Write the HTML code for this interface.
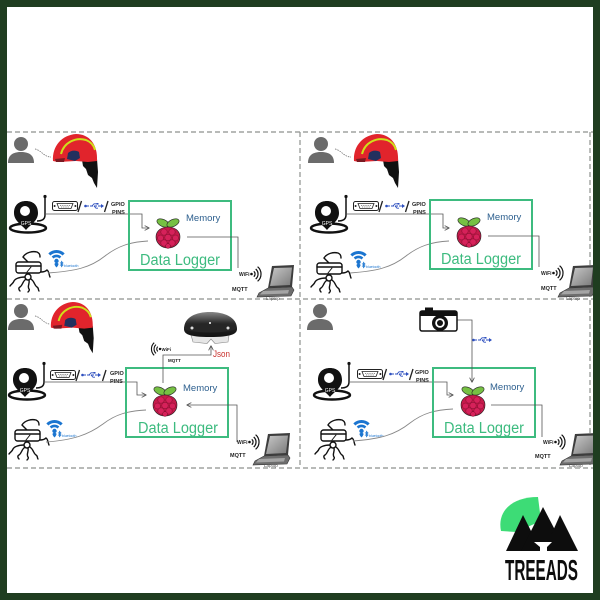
<!DOCTYPE html>
<html><head><meta charset="utf-8">
<style>
html,body{margin:0;padding:0;width:600px;height:600px;overflow:hidden;background:#1f3d20}
svg{display:block}
text{font-family:"Liberation Sans",Arial,sans-serif}
</style></head><body>
<svg width="600" height="600" viewBox="0 0 600 600" xmlns="http://www.w3.org/2000/svg">
<defs>
 <marker id="ar" viewBox="0 0 6 6" refX="5.5" refY="3" markerWidth="5" markerHeight="5" orient="auto" markerUnits="userSpaceOnUse">
  <path d="M0,0 L6,3 L0,6" fill="none" stroke="#555" stroke-width="1"/>
 </marker>
 <linearGradient id="hl" x1="0" y1="0" x2="0" y2="1"><stop offset="0" stop-color="#888"/><stop offset="0.45" stop-color="#2a2a2a"/><stop offset="1" stop-color="#111"/></linearGradient>
 <linearGradient id="scr" x1="0" y1="0" x2="1" y2="1"><stop offset="0" stop-color="#c8c8c8"/><stop offset="1" stop-color="#7a7a7a"/></linearGradient>
</defs>
<rect x="0" y="0" width="600" height="600" fill="#fff"/>

<!-- dashed grid -->
<g stroke="#8e918e" stroke-width="1.2" stroke-dasharray="5 3" fill="none">
 <line x1="7" y1="132" x2="593" y2="132"/>
 <line x1="7" y1="299" x2="593" y2="299"/>
 <line x1="7" y1="468" x2="593" y2="468"/>
 <line x1="300" y1="132" x2="300" y2="468"/>
 <line x1="590" y1="132" x2="590" y2="468"/>
</g>

<!-- ========== PANEL 1 ========== -->
<g id="p1">
 <g transform="translate(8,136)" fill="#6b6b6b"><circle cx="13" cy="8" r="7"/><path d="M0,27 C0,19 5,16 13,16 C21,16 26,19 26,27 Z"/></g>
 <path d="M35,149 C41,150 44,157 51,157" fill="none" stroke="#666" stroke-width="0.7" stroke-dasharray="1.5 1"/>
 <g transform="translate(52,134)">
  <path d="M30,26 L45,25 L46,38 L45,54 L42,49 L40,44 L36,41 L34,35 L31,32 Z" fill="#111"/>
  <path d="M1,27 C0,12 10,1 24,0 C37,0 46,10 45,27 L36,28 L24,27 L6,28 Z" fill="#e1242c"/>
  <path d="M9,20 C12,8 24,3 34,6 C39,8 42,12 43,16" fill="none" stroke="#cfe01a" stroke-width="2"/>
  <path d="M15,25 L16,19 C19,16 24,16 27,18 L28,24 L23,27 Z" fill="#23305e"/>
  <path d="M3,25 L13,24 L12,28 L4,28 Z" fill="#7a1a22"/>
 </g>
 <g transform="translate(10,195)">
  <ellipse cx="18" cy="33" rx="18" ry="4.5" fill="none" stroke="#111" stroke-width="2.5"/>
  <path d="M16,35 C12,30 4,26 4,18 C4,10 9,6 16,6 C23,6 28,10 28,18 C28,26 20,30 16,35 Z" fill="#111"/>
  <circle cx="15" cy="16" r="5" fill="#fff"/>
  <path d="M35,1 L35,20 C35,24 32,26 27,26" fill="none" stroke="#111" stroke-width="1.5"/>
  <circle cx="35" cy="1.5" r="1.6" fill="#111"/>
  <text x="16" y="30" font-size="5" fill="#fff" text-anchor="middle">GPS</text>
 </g>
 <g transform="translate(52,201)">
  <rect x="0.5" y="0.5" width="25" height="9" rx="2" fill="#fff" stroke="#222" stroke-width="1"/>
  <path d="M5,2.5 L21,2.5 L19,7.5 L7,7.5 Z" fill="none" stroke="#222" stroke-width="0.8"/>
  <circle cx="2.6" cy="5" r="1" fill="#222"/><circle cx="23.4" cy="5" r="1" fill="#222"/>
  <path d="M8,4.5 L18,4.5 M9,6 L17,6" stroke="#222" stroke-width="0.6" stroke-dasharray="1 0.8"/>
 </g>
 <line x1="78" y1="212" x2="81.5" y2="201" stroke="#222" stroke-width="1.3"/>
 <g transform="translate(84,203)" stroke="#2d4fbf" fill="#2d4fbf">
  <line x1="2" y1="3" x2="18" y2="3" stroke-width="1" stroke-dasharray="3 1"/>
  <circle cx="1.5" cy="3" r="1.3" stroke="none"/>
  <path d="M17,1 L20,3 L17,5 Z" stroke="none"/>
  <path d="M8,3 L10,0.8 L13,0.8 M10,3 L12,5.2 L14,5.2" fill="none" stroke-width="0.9"/>
  <rect x="12.5" y="0" width="2" height="1.6" stroke="none"/>
 </g>
 <line x1="104.5" y1="212" x2="108" y2="201" stroke="#222" stroke-width="1.3"/>
 <text x="111" y="206" font-size="5.5" font-weight="bold" fill="#222">GPIO</text>
 <text x="112" y="214" font-size="5.5" font-weight="bold" fill="#222">PINS</text>
 <polyline points="45,214 142,214 142,228 149,228" fill="none" stroke="#555" stroke-width="0.8" marker-end="url(#ar)"/>
 <g transform="translate(8,250)" fill="none" stroke="#111" stroke-width="1.4" stroke-linecap="round">
  <path d="M20,12 L15,7 C18,2 25,1 29,2 C31,3 32,4 32,7"/>
  <rect x="8" y="12" width="25" height="11" rx="2.5" fill="#fff"/>
  <path d="M8,16 L33,16"/>
  <path d="M19,22 L23,17" stroke-width="1"/>
  <circle cx="20" cy="27" r="3"/>
  <path d="M17,27 C11,27 7,29 6,31 C5,34 3,34 2,36"/>
  <path d="M18,29 C14,32 15,35 12,37 C10,38 11,40 12,41"/>
  <path d="M21,30 C22,34 19,36 21,39 C22,40 21,41 20,42"/>
  <path d="M23,29 C27,32 26,35 29,37 C31,38 30,40 31,41"/>
  <path d="M33,22 C36,22 38,21 39,20 C41,21 41,25 42,27"/>
 </g>
 <g transform="translate(48,248)">
  <path d="M1.4,6.5 A10,10 0 0 1 15.6,6.5" fill="none" stroke="#1b75d0" stroke-width="3"/>
  <path d="M4.6,9.6 A5.5,5.5 0 0 1 12.4,9.6" fill="none" stroke="#1b75d0" stroke-width="2.6"/>
  <circle cx="8.5" cy="13" r="2.2" fill="#1b75d0"/>
  <path d="M6.5,16 C6.5,14.5 10.5,14.5 10.5,16 C10.5,17.5 8.5,19.5 8.5,19.5 C8.5,19.5 6.5,17.5 6.5,16 Z" fill="#1b75d0"/>
  <path d="M12,14.5 L15,17 L13.5,18.5 L13.5,13.5 L15,15 L12,17.5" fill="none" stroke="#1b75d0" stroke-width="0.8"/>
  <text x="16" y="19" font-size="3.5" fill="#1b75d0">bluetooth</text>
 </g>
 <path d="M48,273 C75,271 90,268 105,256 C118,246 130,242 148,241" fill="none" stroke="#888" stroke-width="0.9"/>
</g>

<g id="p1core">
 <rect x="129" y="201" width="102" height="69" fill="none" stroke="#3dbb7f" stroke-width="2"/>
 <g transform="translate(155,218)">
  <ellipse cx="8" cy="5" rx="6.5" ry="3.5" transform="rotate(25 8 5)" fill="#76c043" stroke="#222" stroke-width="0.6"/>
  <ellipse cx="18" cy="5" rx="6.5" ry="3.5" transform="rotate(-25 18 5)" fill="#76c043" stroke="#222" stroke-width="0.6"/>
  <path d="M13,9 C20,9 25,13 25,19 C25,25 20,30 13,30 C6,30 1,25 1,19 C1,13 6,9 13,9 Z" fill="#c51a4a" stroke="#222" stroke-width="0.6"/>
  <g fill="#d6215a" stroke="#7d0c2c" stroke-width="0.5">
   <circle cx="9" cy="14" r="3.2"/><circle cx="17" cy="14" r="3.2"/><circle cx="13" cy="19.5" r="3.2"/>
   <circle cx="5.5" cy="20" r="3"/><circle cx="20.5" cy="20" r="3"/><circle cx="9" cy="25" r="3.2"/>
   <circle cx="17" cy="25" r="3.2"/><circle cx="13" cy="28" r="2.4"/>
  </g>
 </g>
 <text x="186" y="221" font-size="9.5" fill="#2d5f8e">Memory</text>
 <text x="140" y="265" font-size="15.5" fill="#3dbb7f" textLength="80" lengthAdjust="spacingAndGlyphs">Data Logger</text>
</g>

<g id="p1out">
 <polyline points="187,237 238,237 238,268" fill="none" stroke="#555" stroke-width="0.8"/>
 <text x="239" y="276" font-size="5" font-weight="bold" fill="#222">WiFi</text>
 <circle cx="251.5" cy="274" r="1.3" fill="#111"/>
 <g fill="none" stroke="#111" stroke-width="1.2">
  <path d="M253.8,271.3 A3.5,3.5 0 0 1 253.8,276.7"/>
  <path d="M255.7,269 A6.5,6.5 0 0 1 255.7,279"/>
  <path d="M257.6,266.7 A9.5,9.5 0 0 1 257.6,281.3"/>
 </g>
 <text x="232" y="291" font-size="5.5" font-weight="bold" fill="#222">MQTT</text>
 <g transform="translate(257,265)">
  <polygon points="15,1 37,0 35,22 11,23" fill="#3d3d3d"/>
  <polygon points="17,3 35,2.5 33,20 13,21" fill="url(#scr)"/>
  <polygon points="11,23 35,22 37,25 34,31 0,32 2,28" fill="#6d6d6d" stroke="#333" stroke-width="0.6"/>
  <polygon points="6,26 32,25 31,28.5 3,29.5" fill="#a5a5a5"/>
 </g>
 <text x="266" y="300" font-size="4.5" fill="#555">Laptop</text>
</g>

<!-- ========== PANEL 2 ========== -->
<g transform="translate(300,0)">
 <g transform="translate(8,136)" fill="#6b6b6b"><circle cx="13" cy="8" r="7"/><path d="M0,27 C0,19 5,16 13,16 C21,16 26,19 26,27 Z"/></g>
 <path d="M35,149 C41,150 44,157 51,157" fill="none" stroke="#666" stroke-width="0.7" stroke-dasharray="1.5 1"/>
 <g transform="translate(53,134)">
  <path d="M30,26 L45,25 L46,38 L45,54 L42,49 L40,44 L36,41 L34,35 L31,32 Z" fill="#111"/>
  <path d="M1,27 C0,12 10,1 24,0 C37,0 46,10 45,27 L36,28 L24,27 L6,28 Z" fill="#e1242c"/>
  <path d="M9,20 C12,8 24,3 34,6 C39,8 42,12 43,16" fill="none" stroke="#cfe01a" stroke-width="2"/>
  <path d="M15,25 L16,19 C19,16 24,16 27,18 L28,24 L23,27 Z" fill="#23305e"/>
  <path d="M3,25 L13,24 L12,28 L4,28 Z" fill="#7a1a22"/>
 </g>
 <g transform="translate(11,195)">
  <ellipse cx="18" cy="33" rx="18" ry="4.5" fill="none" stroke="#111" stroke-width="2.5"/>
  <path d="M16,35 C12,30 4,26 4,18 C4,10 9,6 16,6 C23,6 28,10 28,18 C28,26 20,30 16,35 Z" fill="#111"/>
  <circle cx="15" cy="16" r="5" fill="#fff"/>
  <path d="M35,1 L35,20 C35,24 32,26 27,26" fill="none" stroke="#111" stroke-width="1.5"/>
  <circle cx="35" cy="1.5" r="1.6" fill="#111"/>
  <text x="16" y="30" font-size="5" fill="#fff" text-anchor="middle">GPS</text>
 </g>
 <g transform="translate(53,201)">
  <rect x="0.5" y="0.5" width="25" height="9" rx="2" fill="#fff" stroke="#222" stroke-width="1"/>
  <path d="M5,2.5 L21,2.5 L19,7.5 L7,7.5 Z" fill="none" stroke="#222" stroke-width="0.8"/>
  <circle cx="2.6" cy="5" r="1" fill="#222"/><circle cx="23.4" cy="5" r="1" fill="#222"/>
  <path d="M8,4.5 L18,4.5 M9,6 L17,6" stroke="#222" stroke-width="0.6" stroke-dasharray="1 0.8"/>
 </g>
 <line x1="79" y1="212" x2="82.5" y2="201" stroke="#222" stroke-width="1.3"/>
 <g transform="translate(85,203)" stroke="#2d4fbf" fill="#2d4fbf">
  <line x1="2" y1="3" x2="18" y2="3" stroke-width="1" stroke-dasharray="3 1"/>
  <circle cx="1.5" cy="3" r="1.3" stroke="none"/>
  <path d="M17,1 L20,3 L17,5 Z" stroke="none"/>
  <path d="M8,3 L10,0.8 L13,0.8 M10,3 L12,5.2 L14,5.2" fill="none" stroke-width="0.9"/>
  <rect x="12.5" y="0" width="2" height="1.6" stroke="none"/>
 </g>
 <line x1="105.5" y1="212" x2="109" y2="201" stroke="#222" stroke-width="1.3"/>
 <text x="112" y="206" font-size="5.5" font-weight="bold" fill="#222">GPIO</text>
 <text x="113" y="214" font-size="5.5" font-weight="bold" fill="#222">PINS</text>
 <polyline points="47,214 143,214 143,228 149,228" fill="none" stroke="#555" stroke-width="0.8" marker-end="url(#ar)"/>
 <g transform="translate(9,251)" fill="none" stroke="#111" stroke-width="1.4" stroke-linecap="round">
  <path d="M20,12 L15,7 C18,2 25,1 29,2 C31,3 32,4 32,7"/>
  <rect x="8" y="12" width="25" height="11" rx="2.5" fill="#fff"/>
  <path d="M8,16 L33,16"/>
  <path d="M19,22 L23,17" stroke-width="1"/>
  <circle cx="20" cy="27" r="3"/>
  <path d="M17,27 C11,27 7,29 6,31 C5,34 3,34 2,36"/>
  <path d="M18,29 C14,32 15,35 12,37 C10,38 11,40 12,41"/>
  <path d="M21,30 C22,34 19,36 21,39 C22,40 21,41 20,42"/>
  <path d="M23,29 C27,32 26,35 29,37 C31,38 30,40 31,41"/>
  <path d="M33,22 C36,22 38,21 39,20 C41,21 41,25 42,27"/>
 </g>
 <g transform="translate(50,249)">
  <path d="M1.4,6.5 A10,10 0 0 1 15.6,6.5" fill="none" stroke="#1b75d0" stroke-width="3"/>
  <path d="M4.6,9.6 A5.5,5.5 0 0 1 12.4,9.6" fill="none" stroke="#1b75d0" stroke-width="2.6"/>
  <circle cx="8.5" cy="13" r="2.2" fill="#1b75d0"/>
  <path d="M6.5,16 C6.5,14.5 10.5,14.5 10.5,16 C10.5,17.5 8.5,19.5 8.5,19.5 C8.5,19.5 6.5,17.5 6.5,16 Z" fill="#1b75d0"/>
  <path d="M12,14.5 L15,17 L13.5,18.5 L13.5,13.5 L15,15 L12,17.5" fill="none" stroke="#1b75d0" stroke-width="0.8"/>
  <text x="16" y="19" font-size="3.5" fill="#1b75d0">bluetooth</text>
 </g>
 <path d="M50,273 C76,271 91,268 106,256 C119,246 131,242 149,241" fill="none" stroke="#888" stroke-width="0.9"/>
</g>
<g transform="translate(301,-1)">
 <rect x="129" y="201" width="102" height="69" fill="none" stroke="#3dbb7f" stroke-width="2"/>
 <g transform="translate(155,218)">
  <ellipse cx="8" cy="5" rx="6.5" ry="3.5" transform="rotate(25 8 5)" fill="#76c043" stroke="#222" stroke-width="0.6"/>
  <ellipse cx="18" cy="5" rx="6.5" ry="3.5" transform="rotate(-25 18 5)" fill="#76c043" stroke="#222" stroke-width="0.6"/>
  <path d="M13,9 C20,9 25,13 25,19 C25,25 20,30 13,30 C6,30 1,25 1,19 C1,13 6,9 13,9 Z" fill="#c51a4a" stroke="#222" stroke-width="0.6"/>
  <g fill="#d6215a" stroke="#7d0c2c" stroke-width="0.5">
   <circle cx="9" cy="14" r="3.2"/><circle cx="17" cy="14" r="3.2"/><circle cx="13" cy="19.5" r="3.2"/>
   <circle cx="5.5" cy="20" r="3"/><circle cx="20.5" cy="20" r="3"/><circle cx="9" cy="25" r="3.2"/>
   <circle cx="17" cy="25" r="3.2"/><circle cx="13" cy="28" r="2.4"/>
  </g>
 </g>
 <text x="186" y="221" font-size="9.5" fill="#2d5f8e">Memory</text>
 <text x="140" y="265" font-size="15.5" fill="#3dbb7f" textLength="80" lengthAdjust="spacingAndGlyphs">Data Logger</text>
 <polyline points="187,237 238,237 238,268" fill="none" stroke="#555" stroke-width="0.8"/>
 <text x="240" y="276" font-size="5" font-weight="bold" fill="#222">WiFi</text>
 <circle cx="252.5" cy="274" r="1.3" fill="#111"/>
 <g fill="none" stroke="#111" stroke-width="1.2">
  <path d="M254.8,271.3 A3.5,3.5 0 0 1 254.8,276.7"/>
  <path d="M256.7,269 A6.5,6.5 0 0 1 256.7,279"/>
  <path d="M258.6,266.7 A9.5,9.5 0 0 1 258.6,281.3"/>
 </g>
 <text x="240" y="291" font-size="5.5" font-weight="bold" fill="#222">MQTT</text>
 <g transform="translate(257,266)">
  <polygon points="15,1 37,0 35,22 11,23" fill="#3d3d3d"/>
  <polygon points="17,3 35,2.5 33,20 13,21" fill="url(#scr)"/>
  <polygon points="11,23 35,22 37,25 34,31 0,32 2,28" fill="#6d6d6d" stroke="#333" stroke-width="0.6"/>
  <polygon points="6,26 32,25 31,28.5 3,29.5" fill="#a5a5a5"/>
 </g>
 <text x="265" y="301" font-size="4.5" fill="#555">Laptop</text>
</g>

<!-- ========== PANEL 3 ========== -->
<g transform="translate(0,167)">
 <g transform="translate(8,136)" fill="#6b6b6b"><circle cx="13" cy="8" r="7"/><path d="M0,27 C0,19 5,16 13,16 C21,16 26,19 26,27 Z"/></g>
 <path d="M35,149 C41,150 44,157 50,157" fill="none" stroke="#666" stroke-width="0.7" stroke-dasharray="1.5 1"/>
 <g transform="translate(50,135) scale(0.95)">
  <path d="M30,26 L45,25 L46,38 L45,54 L42,49 L40,44 L36,41 L34,35 L31,32 Z" fill="#111"/>
  <path d="M1,27 C0,12 10,1 24,0 C37,0 46,10 45,27 L36,28 L24,27 L6,28 Z" fill="#e1242c"/>
  <path d="M9,20 C12,8 24,3 34,6 C39,8 42,12 43,16" fill="none" stroke="#cfe01a" stroke-width="2"/>
  <path d="M15,25 L16,19 C19,16 24,16 27,18 L28,24 L23,27 Z" fill="#23305e"/>
  <path d="M3,25 L13,24 L12,28 L4,28 Z" fill="#7a1a22"/>
 </g>
 <g transform="translate(9,195)">
  <ellipse cx="18" cy="33" rx="18" ry="4.5" fill="none" stroke="#111" stroke-width="2.5"/>
  <path d="M16,35 C12,30 4,26 4,18 C4,10 9,6 16,6 C23,6 28,10 28,18 C28,26 20,30 16,35 Z" fill="#111"/>
  <circle cx="15" cy="16" r="5" fill="#fff"/>
  <path d="M35,1 L35,20 C35,24 32,26 27,26" fill="none" stroke="#111" stroke-width="1.5"/>
  <circle cx="35" cy="1.5" r="1.6" fill="#111"/>
  <text x="16" y="30" font-size="5" fill="#fff" text-anchor="middle">GPS</text>
 </g>
 <g transform="translate(50,203)">
  <rect x="0.5" y="0.5" width="25" height="9" rx="2" fill="#fff" stroke="#222" stroke-width="1"/>
  <path d="M5,2.5 L21,2.5 L19,7.5 L7,7.5 Z" fill="none" stroke="#222" stroke-width="0.8"/>
  <circle cx="2.6" cy="5" r="1" fill="#222"/><circle cx="23.4" cy="5" r="1" fill="#222"/>
  <path d="M8,4.5 L18,4.5 M9,6 L17,6" stroke="#222" stroke-width="0.6" stroke-dasharray="1 0.8"/>
 </g>
 <line x1="76" y1="214" x2="79.5" y2="203" stroke="#222" stroke-width="1.3"/>
 <g transform="translate(81,205)" stroke="#2d4fbf" fill="#2d4fbf">
  <line x1="2" y1="3" x2="18" y2="3" stroke-width="1" stroke-dasharray="3 1"/>
  <circle cx="1.5" cy="3" r="1.3" stroke="none"/>
  <path d="M17,1 L20,3 L17,5 Z" stroke="none"/>
  <path d="M8,3 L10,0.8 L13,0.8 M10,3 L12,5.2 L14,5.2" fill="none" stroke-width="0.9"/>
  <rect x="12.5" y="0" width="2" height="1.6" stroke="none"/>
 </g>
 <line x1="102.5" y1="214" x2="106" y2="203" stroke="#222" stroke-width="1.3"/>
 <text x="110" y="208" font-size="5.5" font-weight="bold" fill="#222">GPIO</text>
 <text x="110" y="216" font-size="5.5" font-weight="bold" fill="#222">PINS</text>
 <polyline points="45,215 137,215 137,228 146,228" fill="none" stroke="#555" stroke-width="0.8" marker-end="url(#ar)"/>
 <g transform="translate(7,251)" fill="none" stroke="#111" stroke-width="1.4" stroke-linecap="round">
  <path d="M20,12 L15,7 C18,2 25,1 29,2 C31,3 32,4 32,7"/>
  <rect x="8" y="12" width="25" height="11" rx="2.5" fill="#fff"/>
  <path d="M8,16 L33,16"/>
  <path d="M19,22 L23,17" stroke-width="1"/>
  <circle cx="20" cy="27" r="3"/>
  <path d="M17,27 C11,27 7,29 6,31 C5,34 3,34 2,36"/>
  <path d="M18,29 C14,32 15,35 12,37 C10,38 11,40 12,41"/>
  <path d="M21,30 C22,34 19,36 21,39 C22,40 21,41 20,42"/>
  <path d="M23,29 C27,32 26,35 29,37 C31,38 30,40 31,41"/>
  <path d="M33,22 C36,22 38,21 39,20 C41,21 41,25 42,27"/>
 </g>
 <g transform="translate(46,251)">
  <path d="M1.4,6.5 A10,10 0 0 1 15.6,6.5" fill="none" stroke="#1b75d0" stroke-width="3"/>
  <path d="M4.6,9.6 A5.5,5.5 0 0 1 12.4,9.6" fill="none" stroke="#1b75d0" stroke-width="2.6"/>
  <circle cx="8.5" cy="13" r="2.2" fill="#1b75d0"/>
  <path d="M6.5,16 C6.5,14.5 10.5,14.5 10.5,16 C10.5,17.5 8.5,19.5 8.5,19.5 C8.5,19.5 6.5,17.5 6.5,16 Z" fill="#1b75d0"/>
  <path d="M12,14.5 L15,17 L13.5,18.5 L13.5,13.5 L15,15 L12,17.5" fill="none" stroke="#1b75d0" stroke-width="0.8"/>
  <text x="16" y="19" font-size="3.5" fill="#1b75d0">bluetooth</text>
 </g>
 <path d="M46,275 C73,273 88,268 103,257 C116,247 128,244 146,243" fill="none" stroke="#888" stroke-width="0.9"/>
</g>
<g transform="translate(-3,167)">
 <rect x="129" y="201" width="102" height="69" fill="none" stroke="#3dbb7f" stroke-width="2"/>
 <g transform="translate(155,219)">
  <ellipse cx="8" cy="5" rx="6.5" ry="3.5" transform="rotate(25 8 5)" fill="#76c043" stroke="#222" stroke-width="0.6"/>
  <ellipse cx="18" cy="5" rx="6.5" ry="3.5" transform="rotate(-25 18 5)" fill="#76c043" stroke="#222" stroke-width="0.6"/>
  <path d="M13,9 C20,9 25,13 25,19 C25,25 20,30 13,30 C6,30 1,25 1,19 C1,13 6,9 13,9 Z" fill="#c51a4a" stroke="#222" stroke-width="0.6"/>
  <g fill="#d6215a" stroke="#7d0c2c" stroke-width="0.5">
   <circle cx="9" cy="14" r="3.2"/><circle cx="17" cy="14" r="3.2"/><circle cx="13" cy="19.5" r="3.2"/>
   <circle cx="5.5" cy="20" r="3"/><circle cx="20.5" cy="20" r="3"/><circle cx="9" cy="25" r="3.2"/>
   <circle cx="17" cy="25" r="3.2"/><circle cx="13" cy="28" r="2.4"/>
  </g>
 </g>
 <text x="186" y="224" font-size="9.5" fill="#2d5f8e">Memory</text>
 <text x="141" y="266" font-size="15.5" fill="#3dbb7f" textLength="80" lengthAdjust="spacingAndGlyphs">Data Logger</text>
</g>
<polyline points="237,442 237,405 187,405" fill="none" stroke="#555" stroke-width="0.8" marker-end="url(#ar)"/>
<text x="237" y="444" font-size="5" font-weight="bold" fill="#222">WiFi</text>
<circle cx="249.5" cy="442" r="1.3" fill="#111"/>
<g fill="none" stroke="#111" stroke-width="1.2">
 <path d="M251.8,439.3 A3.5,3.5 0 0 1 251.8,444.7"/>
 <path d="M253.7,437 A6.5,6.5 0 0 1 253.7,447"/>
 <path d="M255.6,434.7 A9.5,9.5 0 0 1 255.6,449.3"/>
</g>
<text x="230" y="457" font-size="5.5" font-weight="bold" fill="#222">MQTT</text>
<g transform="translate(253,433)">
 <polygon points="15,1 37,0 35,22 11,23" fill="#3d3d3d"/>
 <polygon points="17,3 35,2.5 33,20 13,21" fill="url(#scr)"/>
 <polygon points="11,23 35,22 37,25 34,31 0,32 2,28" fill="#6d6d6d" stroke="#333" stroke-width="0.6"/>
 <polygon points="6,26 32,25 31,28.5 3,29.5" fill="#a5a5a5"/>
</g>
<text x="264" y="467" font-size="4.5" fill="#555">Laptop</text>
<polyline points="163,383 163,355 211,355 211,346" fill="none" stroke="#555" stroke-width="0.8" marker-end="url(#ar)"/>
<text x="213" y="357" font-size="9" fill="#c8302c" textLength="17" lengthAdjust="spacingAndGlyphs">Json</text>
<circle cx="160" cy="349" r="1.2" fill="#111"/>
<g fill="none" stroke="#111" stroke-width="1.1">
 <path d="M157.8,346.6 A3.2,3.2 0 0 0 157.8,351.4"/>
 <path d="M156,344.6 A6,6 0 0 0 156,353.4"/>
 <path d="M154.2,342.7 A8.6,8.6 0 0 0 154.2,355.3"/>
</g>
<text x="161.5" y="351" font-size="4.5" font-weight="bold" fill="#222">WiFi</text>
<text x="168" y="362" font-size="4.5" font-weight="bold" fill="#222">MQTT</text>
<path d="M191,335 L229,335 L228,342 L215,343.5 L211,339 L207,343.5 L193,342 Z" fill="#e6e6e6" stroke="#8a8a8a" stroke-width="0.6"/>
<path d="M184,329 C184,317 196,312 210,312 C224,312 237,317 237,329 C237,334 231,337 210,337 C189,337 184,334 184,329 Z" fill="url(#hl)"/>
<ellipse cx="210" cy="328" rx="26" ry="4.5" fill="#262626"/>
<circle cx="192" cy="328" r="1.5" fill="#ddd"/><circle cx="228" cy="328" r="1.5" fill="#ddd"/><circle cx="210" cy="323" r="1" fill="#fff"/>

<!-- ========== PANEL 4 ========== -->
<g transform="translate(299,167)" fill="#6b6b6b"><g transform="translate(8,136)"><circle cx="13" cy="8" r="7"/><path d="M0,27 C0,19 5,16 13,16 C21,16 26,19 26,27 Z"/></g></g>
<g transform="translate(304,167)">
 <g transform="translate(10,195)">
  <ellipse cx="18" cy="33" rx="18" ry="4.5" fill="none" stroke="#111" stroke-width="2.5"/>
  <path d="M16,35 C12,30 4,26 4,18 C4,10 9,6 16,6 C23,6 28,10 28,18 C28,26 20,30 16,35 Z" fill="#111"/>
  <circle cx="15" cy="16" r="5" fill="#fff"/>
  <path d="M35,1 L35,20 C35,24 32,26 27,26" fill="none" stroke="#111" stroke-width="1.5"/>
  <circle cx="35" cy="1.5" r="1.6" fill="#111"/>
  <text x="16" y="30" font-size="5" fill="#fff" text-anchor="middle">GPS</text>
 </g>
 <g transform="translate(53,202)">
  <rect x="0.5" y="0.5" width="25" height="9" rx="2" fill="#fff" stroke="#222" stroke-width="1"/>
  <path d="M5,2.5 L21,2.5 L19,7.5 L7,7.5 Z" fill="none" stroke="#222" stroke-width="0.8"/>
  <circle cx="2.6" cy="5" r="1" fill="#222"/><circle cx="23.4" cy="5" r="1" fill="#222"/>
  <path d="M8,4.5 L18,4.5 M9,6 L17,6" stroke="#222" stroke-width="0.6" stroke-dasharray="1 0.8"/>
 </g>
 <line x1="79" y1="213" x2="82.5" y2="202" stroke="#222" stroke-width="1.3"/>
 <g transform="translate(85,204)" stroke="#2d4fbf" fill="#2d4fbf">
  <line x1="2" y1="3" x2="18" y2="3" stroke-width="1" stroke-dasharray="3 1"/>
  <circle cx="1.5" cy="3" r="1.3" stroke="none"/>
  <path d="M17,1 L20,3 L17,5 Z" stroke="none"/>
  <path d="M8,3 L10,0.8 L13,0.8 M10,3 L12,5.2 L14,5.2" fill="none" stroke-width="0.9"/>
  <rect x="12.5" y="0" width="2" height="1.6" stroke="none"/>
 </g>
 <line x1="105.5" y1="213" x2="109" y2="202" stroke="#222" stroke-width="1.3"/>
 <text x="111" y="207" font-size="5.5" font-weight="bold" fill="#222">GPIO</text>
 <text x="112" y="215" font-size="5.5" font-weight="bold" fill="#222">PINS</text>
 <polyline points="45,215 143,215 143,228 149,228" fill="none" stroke="#555" stroke-width="0.8" marker-end="url(#ar)"/>
 <g transform="translate(9,251)" fill="none" stroke="#111" stroke-width="1.4" stroke-linecap="round">
  <path d="M20,12 L15,7 C18,2 25,1 29,2 C31,3 32,4 32,7"/>
  <rect x="8" y="12" width="25" height="11" rx="2.5" fill="#fff"/>
  <path d="M8,16 L33,16"/>
  <path d="M19,22 L23,17" stroke-width="1"/>
  <circle cx="20" cy="27" r="3"/>
  <path d="M17,27 C11,27 7,29 6,31 C5,34 3,34 2,36"/>
  <path d="M18,29 C14,32 15,35 12,37 C10,38 11,40 12,41"/>
  <path d="M21,30 C22,34 19,36 21,39 C22,40 21,41 20,42"/>
  <path d="M23,29 C27,32 26,35 29,37 C31,38 30,40 31,41"/>
  <path d="M33,22 C36,22 38,21 39,20 C41,21 41,25 42,27"/>
 </g>
 <g transform="translate(49,251)">
  <path d="M1.4,6.5 A10,10 0 0 1 15.6,6.5" fill="none" stroke="#1b75d0" stroke-width="3"/>
  <path d="M4.6,9.6 A5.5,5.5 0 0 1 12.4,9.6" fill="none" stroke="#1b75d0" stroke-width="2.6"/>
  <circle cx="8.5" cy="13" r="2.2" fill="#1b75d0"/>
  <path d="M6.5,16 C6.5,14.5 10.5,14.5 10.5,16 C10.5,17.5 8.5,19.5 8.5,19.5 C8.5,19.5 6.5,17.5 6.5,16 Z" fill="#1b75d0"/>
  <path d="M12,14.5 L15,17 L13.5,18.5 L13.5,13.5 L15,15 L12,17.5" fill="none" stroke="#1b75d0" stroke-width="0.8"/>
  <text x="16" y="19" font-size="3.5" fill="#1b75d0">bluetooth</text>
 </g>
 <path d="M49,274 C76,272 91,268 106,256 C119,246 131,243 149,242" fill="none" stroke="#888" stroke-width="0.9"/>
 <rect x="129" y="201" width="102" height="69" fill="none" stroke="#3dbb7f" stroke-width="2"/>
 <g transform="translate(156,219)">
  <ellipse cx="8" cy="5" rx="6.5" ry="3.5" transform="rotate(25 8 5)" fill="#76c043" stroke="#222" stroke-width="0.6"/>
  <ellipse cx="18" cy="5" rx="6.5" ry="3.5" transform="rotate(-25 18 5)" fill="#76c043" stroke="#222" stroke-width="0.6"/>
  <path d="M13,9 C20,9 25,13 25,19 C25,25 20,30 13,30 C6,30 1,25 1,19 C1,13 6,9 13,9 Z" fill="#c51a4a" stroke="#222" stroke-width="0.6"/>
  <g fill="#d6215a" stroke="#7d0c2c" stroke-width="0.5">
   <circle cx="9" cy="14" r="3.2"/><circle cx="17" cy="14" r="3.2"/><circle cx="13" cy="19.5" r="3.2"/>
   <circle cx="5.5" cy="20" r="3"/><circle cx="20.5" cy="20" r="3"/><circle cx="9" cy="25" r="3.2"/>
   <circle cx="17" cy="25" r="3.2"/><circle cx="13" cy="28" r="2.4"/>
  </g>
 </g>
 <text x="186" y="223" font-size="9.5" fill="#2d5f8e">Memory</text>
 <text x="140" y="266" font-size="15.5" fill="#3dbb7f" textLength="80" lengthAdjust="spacingAndGlyphs">Data Logger</text>
 <polyline points="187,238 238,238 238,270" fill="none" stroke="#555" stroke-width="0.8"/>
 <text x="239" y="277" font-size="5" font-weight="bold" fill="#222">WiFi</text>
 <circle cx="251.5" cy="275" r="1.3" fill="#111"/>
 <g fill="none" stroke="#111" stroke-width="1.2">
  <path d="M253.8,272.3 A3.5,3.5 0 0 1 253.8,277.7"/>
  <path d="M255.7,270 A6.5,6.5 0 0 1 255.7,280"/>
  <path d="M257.6,267.7 A9.5,9.5 0 0 1 257.6,282.3"/>
 </g>
 <text x="231" y="291" font-size="5.5" font-weight="bold" fill="#222">MQTT</text>
 <g transform="translate(256,266)">
  <polygon points="15,1 37,0 35,22 11,23" fill="#3d3d3d"/>
  <polygon points="17,3 35,2.5 33,20 13,21" fill="url(#scr)"/>
  <polygon points="11,23 35,22 37,25 34,31 0,32 2,28" fill="#6d6d6d" stroke="#333" stroke-width="0.6"/>
  <polygon points="6,26 32,25 31,28.5 3,29.5" fill="#a5a5a5"/>
 </g>
 <text x="265" y="300" font-size="4.5" fill="#555">Laptop</text>
</g>
<polyline points="457,320 472,320 472,382" fill="none" stroke="#555" stroke-width="0.8" marker-end="url(#ar)"/>
<rect x="420" y="311" width="37" height="20" rx="2" fill="#fff" stroke="#111" stroke-width="1.5"/>
<rect x="420" y="311" width="37" height="5" fill="#111"/>
<rect x="425" y="307.5" width="8" height="4" fill="#111"/>
<circle cx="440" cy="323" r="8" fill="#111"/>
<circle cx="440" cy="323" r="4.8" fill="#fff"/>
<circle cx="440" cy="323" r="3" fill="#111"/>
<g transform="translate(472,337)" stroke="#2d4fbf" fill="#2d4fbf">
 <line x1="2" y1="3" x2="18" y2="3" stroke-width="1" stroke-dasharray="3 1"/>
 <circle cx="1.5" cy="3" r="1.3" stroke="none"/>
 <path d="M17,1 L20,3 L17,5 Z" stroke="none"/>
 <path d="M8,3 L10,0.8 L13,0.8 M10,3 L12,5.2 L14,5.2" fill="none" stroke-width="0.9"/>
 <rect x="12.5" y="0" width="2" height="1.6" stroke="none"/>
</g>

<!-- ========== LOGO ========== -->
<path d="M501,531 C497,512 511,497 538,497 L541,521 L516,532 Z" fill="#3ddc76"/>
<g fill="#0d0d0d">
 <polygon points="523,515 506,551 541,551"/>
 <polygon points="543,507 521,551 566,551"/>
 <polygon points="560,515 544,551 578,551"/>
</g>
<polygon points="534,542 552,542 547,547 547,551.5 540,551.5 540,547" fill="#fff"/>
<text x="505" y="580" font-size="29" font-weight="bold" fill="#0d0d0d" textLength="73" lengthAdjust="spacingAndGlyphs">TREEADS</text>

<g fill="#1f3d20">
 <rect x="0" y="0" width="600" height="7"/>
 <rect x="0" y="593" width="600" height="7"/>
 <rect x="0" y="0" width="7" height="600"/>
 <rect x="593" y="0" width="7" height="600"/>
</g>
</svg>
</body></html>
